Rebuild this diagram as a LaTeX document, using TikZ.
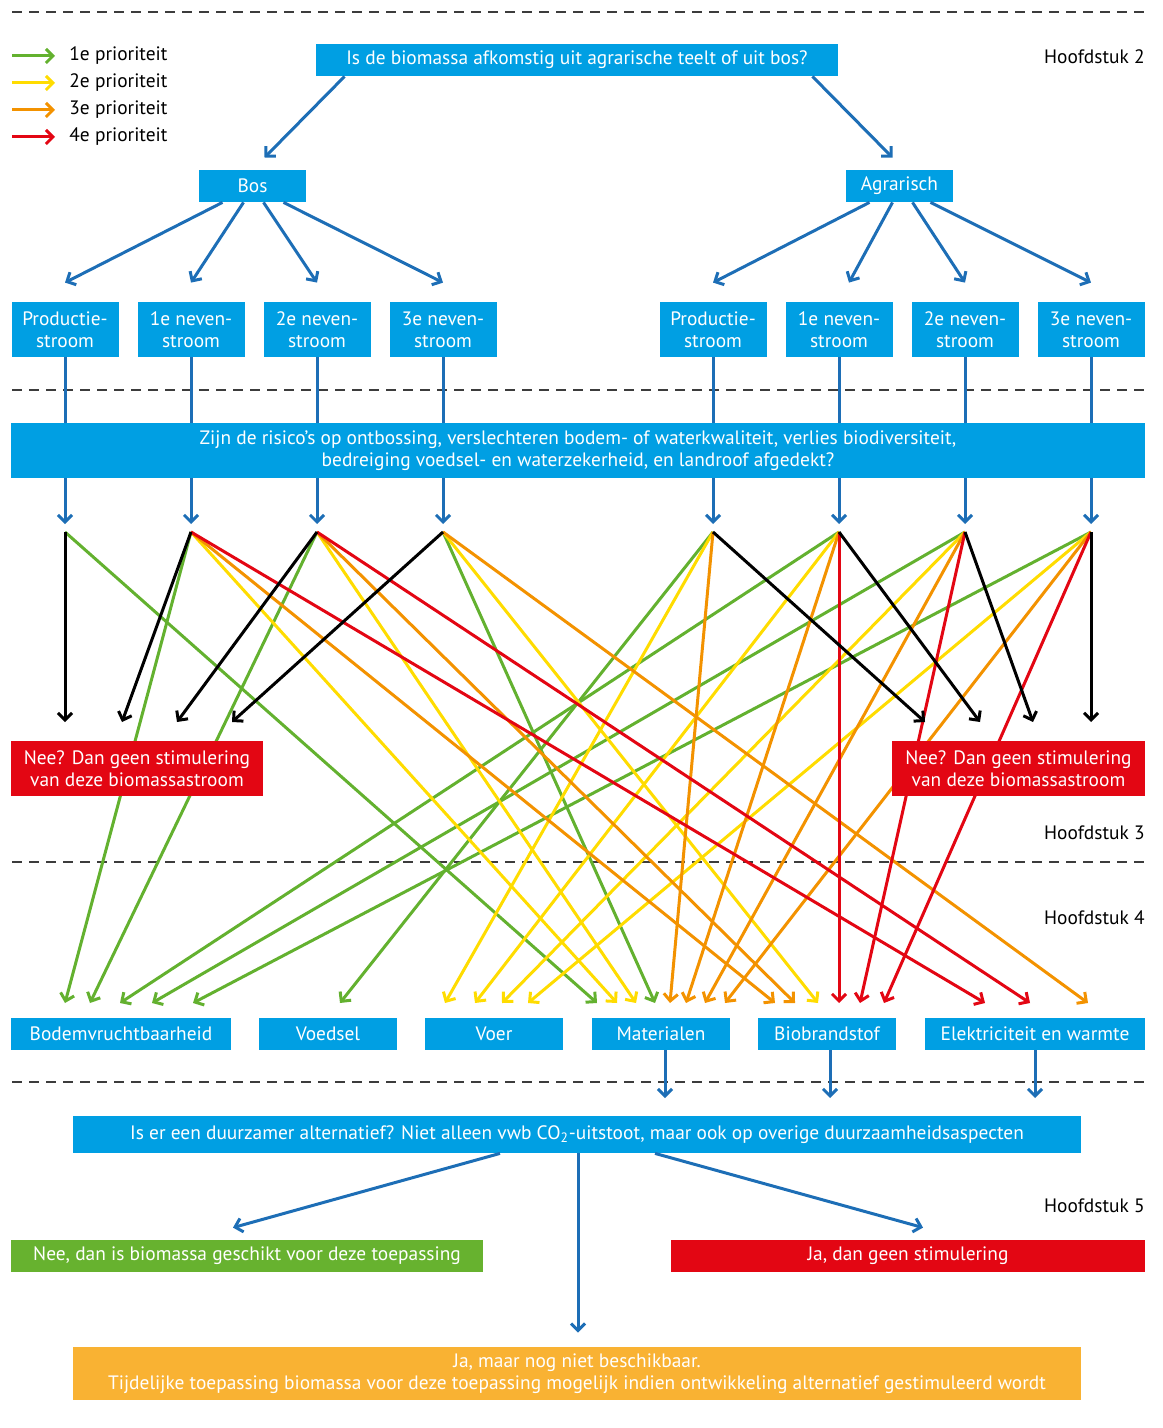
\documentclass[tikz,border=0pt]{standalone}
\usepackage{fontspec}
\setmainfont{PT Sans}
\usetikzlibrary{arrows.meta,calc}

\definecolor{boxblue}{HTML}{009FE3}
\definecolor{arrblue}{HTML}{1D6EB6}
\definecolor{prgreen}{HTML}{63B12F}
\definecolor{pryellow}{HTML}{FFDC00}
\definecolor{prorange}{HTML}{F39200}
\definecolor{prred}{HTML}{E30613}
\definecolor{boxorange}{HTML}{F9B233}
\definecolor{boxgreen}{HTML}{67B22F}
\definecolor{sepgray}{HTML}{3C3C3C}

\tikzset{
  box/.style={fill=boxblue, text=white, inner sep=0pt, align=center,
    font=\fontsize{9.7}{11}\selectfont},
  redbox/.style={box, fill=prred},
  label/.style={font=\fontsize{9.7}{11}\selectfont, text=black, inner sep=0pt},
  sep/.style={sepgray, line width=0.6pt, dash pattern=on 5pt off 3.5pt},
  bl/.style={arrblue, line width=1.5pt},
  gr/.style={prgreen, line width=1.5pt, ->},
  ye/.style={pryellow, line width=1.5pt, ->},
  or/.style={prorange, line width=1.5pt, ->},
  rd/.style={prred, line width=1.5pt, ->},
  bk/.style={black, line width=1.5pt, ->}
}

\begin{document}
\begin{tikzpicture}[x=0.5pt,y=-0.5pt,>={Straight Barb[length=3.5pt,width=7pt]}]
  \useasboundingbox (0,0) rectangle (1162,1428);

  % separators
  \draw[sep] (12,12) -- (1145,12);
  \draw[sep] (12,390) -- (1145,390);
  \draw[sep] (12,862) -- (1145,862);
  \draw[sep] (12,1082) -- (1145,1082);

  % legend
  \node[label, anchor=west] (l1) at (69,56) {1e prioriteit};
  \node[label, anchor=west] (l2) at (69,83) {2e prioriteit};
  \node[label, anchor=west] (l3) at (69,110) {3e prioriteit};
  \node[label, anchor=west] (l4) at (69,137) {4e prioriteit};
  \coordinate (k1) at (12,56);
  \coordinate (k2) at (12,83);
  \coordinate (k3) at (12,110);
  \coordinate (k4) at (12,137);
  \draw[gr] (k1) -- ($(l1.west)+(-14,0)$);
  \draw[ye] (k2) -- ($(l2.west)+(-14,0)$);
  \draw[or] (k3) -- ($(l3.west)+(-14,0)$);
  \draw[rd] (k4) -- ($(l4.west)+(-14,0)$);

  % chapters
  \node[label, anchor=east] (h2) at (1145,57) {Hoofdstuk 2};
  \node[label, anchor=east] (h3) at (1145,833) {Hoofdstuk 3};
  \node[label, anchor=east] (h4) at (1145,918) {Hoofdstuk 4};
  \node[label, anchor=east] (h5) at (1145,1206) {Hoofdstuk 5};

  % question 1
  \node[box, minimum width=261pt, minimum height=16pt] (q1) at (577,60)
    {Is de biomassa afkomstig uit agrarische teelt of uit bos?};
  \node[box, minimum width=53.5pt, minimum height=16pt] (bos) at (252.5,186) {Bos};
  \node[box, minimum width=53.5pt, minimum height=16pt] (agr) at (899.5,186) {Agrarisch};
  \draw[bl,->] ($(q1.south west)+(29,0)$) -- ($(bos.north)+(12,-12)$);
  \draw[bl,->] ($(q1.south east)+(-26,0)$) -- ($(agr.north)+(-7,-12)$);

  % streams
  \node[box, minimum width=53.5pt, minimum height=27.5pt] (p1) at (65,329.5) {Productie-\\stroom};
  \node[box, minimum width=53.5pt, minimum height=27.5pt] (p2) at (191,329.5) {1e neven-\\stroom};
  \node[box, minimum width=53.5pt, minimum height=27.5pt] (p3) at (317,329.5) {2e neven-\\stroom};
  \node[box, minimum width=53.5pt, minimum height=27.5pt] (p4) at (443,329.5) {3e neven-\\stroom};
  \node[box, minimum width=53.5pt, minimum height=27.5pt] (p5) at (713,329.5) {Productie-\\stroom};
  \node[box, minimum width=53.5pt, minimum height=27.5pt] (p6) at (839,329.5) {1e neven-\\stroom};
  \node[box, minimum width=53.5pt, minimum height=27.5pt] (p7) at (965,329.5) {2e neven-\\stroom};
  \node[box, minimum width=53.5pt, minimum height=27.5pt] (p8) at (1091,329.5) {3e neven-\\stroom};
  \draw[bl,->] ($(bos.south)+(-30,0)$) -- ($(p1.north)+(0,-19)$);
  \draw[bl,->] ($(bos.south)+(-9,0)$) -- ($(p2.north)+(0,-19)$);
  \draw[bl,->] ($(bos.south)+(11,0)$) -- ($(p3.north)+(0,-19)$);
  \draw[bl,->] ($(bos.south)+(31,0)$) -- ($(p4.north)+(0,-19)$);
  \draw[bl,->] ($(agr.south)+(-30,0)$) -- ($(p5.north)+(0,-19)$);
  \draw[bl,->] ($(agr.south)+(-7,0)$) -- ($(p6.north)+(10,-19)$);
  \draw[bl,->] ($(agr.south)+(13,0)$) -- ($(p7.north)+(0,-19)$);
  \draw[bl,->] ($(agr.south)+(31,0)$) -- ($(p8.north)+(0,-19)$);

  % question 2
  \node[box, minimum width=567pt, minimum height=27.5pt] (q2) at (578,450.5)
    {Zijn de risico’s op ontbossing, verslechteren bodem- of waterkwaliteit, verlies biodiversiteit,\\
     bedreiging voedsel- en waterzekerheid, en landroof afgedekt?};
  \draw[bl] (p1.south) -- (p1.south |- q2.north);
  \draw[bl] (p2.south) -- (p2.south |- q2.north);
  \draw[bl] (p3.south) -- (p3.south |- q2.north);
  \draw[bl] (p4.south) -- (p4.south |- q2.north);
  \draw[bl] (p5.south) -- (p5.south |- q2.north);
  \draw[bl] (p6.south) -- (p6.south |- q2.north);
  \draw[bl] (p7.south) -- (p7.south |- q2.north);
  \draw[bl] (p8.south) -- (p8.south |- q2.north);

  % sources of the priorities
  \coordinate (s1) at (65,532);
  \coordinate (s2) at (191,532);
  \coordinate (s3) at (317,532);
  \coordinate (s4) at (443,532);
  \coordinate (s5) at (713,532);
  \coordinate (s6) at (839,532);
  \coordinate (s7) at (965,532);
  \coordinate (s8) at (1091,532);
  \draw[bl,->] (s1 |- q2.south) -- ($(s1)+(0,-8)$);
  \draw[bl,->] (s2 |- q2.south) -- ($(s2)+(0,-8)$);
  \draw[bl,->] (s3 |- q2.south) -- ($(s3)+(0,-8)$);
  \draw[bl,->] (s4 |- q2.south) -- ($(s4)+(0,-8)$);
  \draw[bl,->] (s5 |- q2.south) -- ($(s5)+(0,-8)$);
  \draw[bl,->] (s6 |- q2.south) -- ($(s6)+(0,-8)$);
  \draw[bl,->] (s7 |- q2.south) -- ($(s7)+(0,-8)$);
  \draw[bl,->] (s8 |- q2.south) -- ($(s8)+(0,-8)$);

  % applications
  \node[box, minimum width=110pt, minimum height=16pt] (bod) at (121,1034) {Bodemvruchtbaarheid};
  \node[box, minimum width=69pt, minimum height=16pt] (vds) at (328,1034) {Voedsel};
  \node[box, minimum width=69pt, minimum height=16pt] (voer) at (494,1034) {Voer};
  \node[box, minimum width=69pt, minimum height=16pt] (mat) at (661,1034) {Materialen};
  \node[box, minimum width=69pt, minimum height=16pt] (bio) at (827,1034) {Biobrandstof};
  \node[box, minimum width=110pt, minimum height=16pt] (ele) at (1035,1034) {Elektriciteit en warmte};

  % arrow tips
  \coordinate (n1) at (65,722);
  \coordinate (n2) at (122,722);
  \coordinate (n3) at (177,722);
  \coordinate (n4) at (232,722);
  \coordinate (n5) at (925,722);
  \coordinate (n6) at (980,722);
  \coordinate (n7) at (1033,722);
  \coordinate (n8) at (1091,722);
  \coordinate (b1) at (65,1003);
  \coordinate (b2) at (90,1003);
  \coordinate (b3) at (120,1003);
  \coordinate (b4) at (152,1003);
  \coordinate (b5) at (193,1003);
  \coordinate (v0) at (340,1003);
  \coordinate (v1) at (445,1003);
  \coordinate (v2) at (475,1003);
  \coordinate (v3) at (502,1003);
  \coordinate (v4) at (528,1003);
  \coordinate (m1) at (597,1003);
  \coordinate (m2) at (617,1003);
  \coordinate (m3) at (636,1003);
  \coordinate (m4) at (655,1003);
  \coordinate (m5) at (670,1003);
  \coordinate (m6) at (686,1003);
  \coordinate (m7) at (705,1003);
  \coordinate (m8) at (725,1003);
  \coordinate (f1) at (775,1003);
  \coordinate (f2) at (795,1003);
  \coordinate (f3) at (818,1003);
  \coordinate (f4) at (839,1003);
  \coordinate (f5) at (860,1003);
  \coordinate (f6) at (884,1003);
  \coordinate (e1) at (985,1003);
  \coordinate (e2) at (1030,1003);
  \coordinate (e3) at (1088,1003);

  % 1e prioriteit
  \draw[gr] (s1) -- (m1);
  \draw[gr] (s2) -- (b1);
  \draw[gr] (s3) -- (b2);
  \draw[gr] (s4) -- (m4);
  \draw[gr] (s5) -- (v0);
  \draw[gr] (s6) -- (b3);
  \draw[gr] (s7) -- (b4);
  \draw[gr] (s8) -- (b5);
  % 2e prioriteit
  \draw[ye] (s2) -- (m2);
  \draw[ye] (s3) -- (m3);
  \draw[ye] (s4) -- (f3);
  \draw[ye] (s5) -- (v1);
  \draw[ye] (s6) -- (v2);
  \draw[ye] (s7) -- (v3);
  \draw[ye] (s8) -- (v4);
  % 3e prioriteit
  \draw[or] (s2) -- (f1);
  \draw[or] (s3) -- (f2);
  \draw[or] (s4) -- (e3);
  \draw[or] (s5) -- (m5);
  \draw[or] (s6) -- (m6);
  \draw[or] (s7) -- (m7);
  \draw[or] (s8) -- (m8);
  % 4e prioriteit
  \draw[rd] (s2) -- (e1);
  \draw[rd] (s3) -- (e2);
  \draw[rd] (s6) -- (f4);
  \draw[rd] (s7) -- (f5);
  \draw[rd] (s8) -- (f6);
  % afgewezen
  \draw[bk] (s1) -- (n1);
  \draw[bk] (s2) -- (n2);
  \draw[bk] (s3) -- (n3);
  \draw[bk] (s4) -- (n4);
  \draw[bk] (s5) -- (n5);
  \draw[bk] (s6) -- (n6);
  \draw[bk] (s7) -- (n7);
  \draw[bk] (s8) -- (n8);

  % no boxes, on top of the lines
  \node[redbox, minimum width=126pt, minimum height=27.5pt] (nee1) at (137,768.5)
    {Nee? Dan geen stimulering\\van deze biomassastroom};
  \node[redbox, minimum width=126.5pt, minimum height=27.5pt] (nee2) at (1018.5,768.5)
    {Nee? Dan geen stimulering\\van deze biomassastroom};

  % question 3
  \node[box, minimum width=504pt, minimum height=18.5pt] (q3) at (577,1134.5)
    {Is er een duurzamer alternatief? Niet alleen vwb CO\textsubscript{2}-uitstoot, maar ook op overige duurzaamheidsaspecten};
  \coordinate (c1) at (665,1098);
  \coordinate (c2) at (830,1098);
  \coordinate (c3) at (1035,1098);
  \draw[bl,->] (mat.south -| c1) -- (c1);
  \draw[bl,->] (bio.south -| c2) -- (c2);
  \draw[bl,->] (ele.south -| c3) -- (c3);

  % answers
  \node[box, fill=boxgreen, minimum width=236pt, minimum height=16pt] (ans1) at (247,1256)
    {Nee, dan is biomassa geschikt voor deze toepassing};
  \node[redbox, minimum width=237pt, minimum height=16pt] (ans2) at (908,1256)
    {Ja, dan geen stimulering};
  \node[box, fill=boxorange, minimum width=504pt, minimum height=26.5pt] (ans3) at (577,1373.5)
    {Ja, maar nog niet beschikbaar.\\
     Tijdelijke toepassing biomassa voor deze toepassing mogelijk indien ontwikkeling alternatief gestimuleerd wordt};
  \draw[bl,->] ($(q3.south)+(-77,0)$) -- ($(ans1.north)+(-14,-12)$);
  \draw[bl,->] ($(q3.south)+(1,0)$) -- ($(ans3.north)+(1,-14)$);
  \draw[bl,->] ($(q3.south)+(78,0)$) -- ($(ans2.north)+(15,-12)$);
\end{tikzpicture}
\end{document}
